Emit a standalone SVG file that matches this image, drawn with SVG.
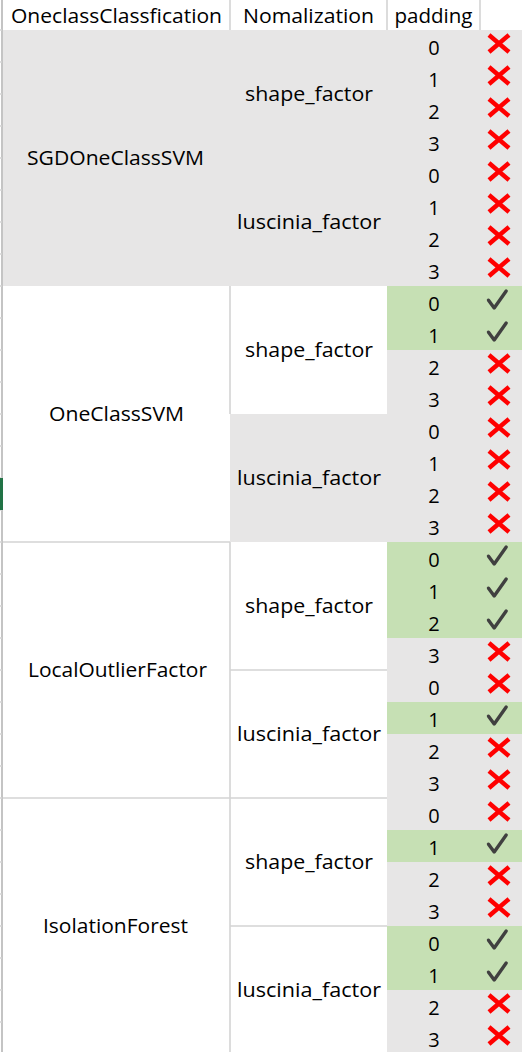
<svg xmlns="http://www.w3.org/2000/svg" width="522" height="1052" viewBox="0 0 522 1052">
<style>
text{font-family:"Open Sans","Noto Sans","Liberation Sans",sans-serif;font-size:20px;fill:#000;text-anchor:middle}
.g{fill:#e7e6e6}
.ok{fill:#c6e0b4}
.grid{stroke:#d4d4d4;stroke-width:1.6;fill:none}
.edge{stroke:#c4c4c4;stroke-width:2;fill:none}
.no{stroke:#ff0000;stroke-width:4.5;fill:none}
.yes{stroke:#404040;stroke-width:3.4;fill:none;stroke-linecap:round;stroke-linejoin:round}
</style>
<defs>
<path id="x" class="no" d="M-10,-8.5 L10,8.5 M10,-8.5 L-10,8.5"/>
<path id="v" class="yes" d="M-8.5,0.5 L-2.8,8.2 L9.2,-8.6"/>
</defs>
<rect x="0" y="0" width="522" height="1052" fill="#fff"/>

<g id="fills">
<rect class="g" x="3" y="30" width="519" height="256"/>
<rect class="g" x="230" y="414" width="157" height="128"/>
<rect class="ok" x="387" y="286" width="135" height="64"/>
<rect class="g" x="387" y="350" width="135" height="192"/>
<rect class="ok" x="387" y="542" width="135" height="96"/>
<rect class="g" x="387" y="638" width="135" height="64"/>
<rect class="ok" x="387" y="702" width="135" height="32"/>
<rect class="g" x="387" y="734" width="135" height="96"/>
<rect class="ok" x="387" y="830" width="135" height="32"/>
<rect class="g" x="387" y="862" width="135" height="64"/>
<rect class="ok" x="387" y="926" width="135" height="64"/>
<rect class="g" x="387" y="990" width="135" height="64"/>
</g>

<g id="connectors">
<path class="edge" d="M2,0 V1052"/>
<path class="grid" d="M0,30 H2 M0,62 H2 M0,94 H2 M0,126 H2 M0,158 H2 M0,190 H2 M0,222 H2 M0,254 H2 M0,286 H2 M0,318 H2 M0,350 H2 M0,382 H2 M0,414 H2 M0,446 H2 M0,478 H2 M0,510 H2 M0,542 H2 M0,574 H2 M0,606 H2 M0,638 H2 M0,670 H2 M0,702 H2 M0,734 H2 M0,766 H2 M0,798 H2 M0,830 H2 M0,862 H2 M0,894 H2 M0,926 H2 M0,958 H2 M0,990 H2 M0,1022 H2"/>
<path class="grid" d="M230,0 V30 M387,0 V30 M480,0 V30 M230,286 V414 M230,542 V1052 M3,542 H230 M3,798 H387 M230,670 H387 M230,926 H387"/>
<rect x="0" y="478" width="3" height="32" fill="#217346"/>
</g>

<g id="header">
<text x="116.5" y="23" textLength="211" lengthAdjust="spacingAndGlyphs">OneclassClassfication</text>
<text x="308.5" y="23" textLength="131" lengthAdjust="spacingAndGlyphs">Nomalization</text>
<text x="433.5" y="23" textLength="78" lengthAdjust="spacingAndGlyphs">padding</text>
</g>

<g id="SGDOneClassSVM">
<text x="115.5" y="165" textLength="177" lengthAdjust="spacingAndGlyphs">SGDOneClassSVM</text>
<text x="309" y="101" textLength="128" lengthAdjust="spacingAndGlyphs">shape_factor</text>
<text x="309" y="229" textLength="144" lengthAdjust="spacingAndGlyphs">luscinia_factor</text>
</g>
<g id="OneClassSVM">
<text x="116.5" y="421" textLength="135" lengthAdjust="spacingAndGlyphs">OneClassSVM</text>
<text x="309" y="357" textLength="128" lengthAdjust="spacingAndGlyphs">shape_factor</text>
<text x="309" y="485" textLength="144" lengthAdjust="spacingAndGlyphs">luscinia_factor</text>
</g>
<g id="LocalOutlierFactor">
<text x="117.5" y="677" textLength="179" lengthAdjust="spacingAndGlyphs">LocalOutlierFactor</text>
<text x="309" y="613" textLength="128" lengthAdjust="spacingAndGlyphs">shape_factor</text>
<text x="309" y="741" textLength="144" lengthAdjust="spacingAndGlyphs">luscinia_factor</text>
</g>
<g id="IsolationForest">
<text x="115.5" y="933" textLength="145" lengthAdjust="spacingAndGlyphs">IsolationForest</text>
<text x="309" y="869" textLength="128" lengthAdjust="spacingAndGlyphs">shape_factor</text>
<text x="309" y="997" textLength="144" lengthAdjust="spacingAndGlyphs">luscinia_factor</text>
</g>

<g id="padding">
<text x="434" y="55">0</text><text x="434" y="87">1</text><text x="434" y="119">2</text><text x="434" y="151">3</text>
<text x="434" y="183">0</text><text x="434" y="215">1</text><text x="434" y="247">2</text><text x="434" y="279">3</text>
<text x="434" y="311">0</text><text x="434" y="343">1</text><text x="434" y="375">2</text><text x="434" y="407">3</text>
<text x="434" y="439">0</text><text x="434" y="471">1</text><text x="434" y="503">2</text><text x="434" y="535">3</text>
<text x="434" y="567">0</text><text x="434" y="599">1</text><text x="434" y="631">2</text><text x="434" y="663">3</text>
<text x="434" y="695">0</text><text x="434" y="727">1</text><text x="434" y="759">2</text><text x="434" y="791">3</text>
<text x="434" y="823">0</text><text x="434" y="855">1</text><text x="434" y="887">2</text><text x="434" y="919">3</text>
<text x="434" y="951">0</text><text x="434" y="983">1</text><text x="434" y="1015">2</text><text x="434" y="1047">3</text>
</g>

<g id="marks">
<use href="#x" x="499" y="43.5"/><use href="#x" x="499" y="75.5"/><use href="#x" x="499" y="107.5"/><use href="#x" x="499" y="139.5"/>
<use href="#x" x="499" y="171.5"/><use href="#x" x="499" y="203.5"/><use href="#x" x="499" y="235.5"/><use href="#x" x="499" y="267.5"/>
<use href="#v" x="497" y="299.7"/><use href="#v" x="497" y="331.7"/><use href="#x" x="499" y="363.5"/><use href="#x" x="499" y="395.5"/>
<use href="#x" x="499" y="427.5"/><use href="#x" x="499" y="459.5"/><use href="#x" x="499" y="491.5"/><use href="#x" x="499" y="523.5"/>
<use href="#v" x="497" y="555.7"/><use href="#v" x="497" y="587.7"/><use href="#v" x="497" y="619.7"/><use href="#x" x="499" y="651.5"/>
<use href="#x" x="499" y="683.5"/><use href="#v" x="497" y="715.7"/><use href="#x" x="499" y="747.5"/><use href="#x" x="499" y="779.5"/>
<use href="#x" x="499" y="811.5"/><use href="#v" x="497" y="843.7"/><use href="#x" x="499" y="875.5"/><use href="#x" x="499" y="907.5"/>
<use href="#v" x="497" y="939.7"/><use href="#v" x="497" y="971.7"/><use href="#x" x="499" y="1003.5"/><use href="#x" x="499" y="1035.5"/>
</g>
</svg>
